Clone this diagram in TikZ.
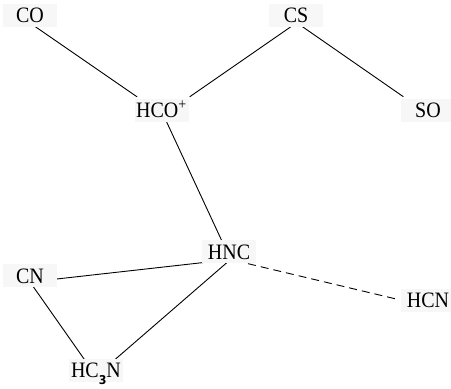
\documentclass[tikz,border=0pt]{standalone}
\usepackage{fontspec}
\setmainfont{Liberation Serif}
\newfontfamily\subfont{DejaVu Sans}
\definecolor{boxbg}{HTML}{F7F7F7}
\newcommand{\molt}[1]{\scalebox{1}[1.1]{#1}}
\begin{document}
\begin{tikzpicture}[x=1pt,y=1pt,
  mol/.style={fill=boxbg, anchor=base, minimum width=54pt, text height=15pt, text depth=0pt,
    inner ysep=4pt, inner xsep=1.5pt, font=\fontsize{20}{22}\selectfont},
  link/.style={line width=0.9pt},
  dlink/.style={line width=0.9pt, dash pattern=on 8pt off 5pt}]
\useasboundingbox (0,0) rectangle (451,389);
% aim points of the connectors
\coordinate (pco) at (30,366);
\coordinate (pcs) at (296.7,366.3);
\coordinate (phco) at (163.4,274);
\coordinate (pso) at (429.7,274);
\coordinate (phnc) at (230.5,129.5);
\coordinate (pcn) at (30,107);
\coordinate (phcn) at (428,82.4);
\coordinate (phc3n) at (96,13);
% connectors (behind the labels)
\draw[link, shorten >=32pt] (pco) -- (phco);
\draw[link, shorten >=32pt] (pcs) -- (phco);
\draw[link, shorten >=32pt] (pcs) -- (pso);
\draw[link] (phco) -- (phnc);
\draw[link] (phnc) -- (pcn);
\draw[link] (phnc) -- (phc3n);
\draw[link] (pcn) -- (phc3n);
\draw[dlink, shorten <=18pt, shorten >=34pt] (phnc) -- (phcn);
% labels
\node[mol] (co) at (30,366) {\molt{CO}};
\node[mol] (cs) at (296,366) {\molt{CS}};
\node[mol] (hco) at (161.5,271) {\molt{HCO\textsuperscript{+}}};
\node[mol] (so) at (428,271) {\molt{SO}};
\node[mol] (hnc) at (229,129.7) {\molt{HNC}};
\node[mol] (cn) at (30,105.7) {\molt{CN}};
\node[mol] (hcn) at (428,81) {\molt{HCN}};
\node[mol] (hc3n) at (96,11) {\molt{HC\raisebox{-6pt}{\subfont\bfseries\fontsize{11}{12}\selectfont 3}N}};
\end{tikzpicture}
\end{document}
